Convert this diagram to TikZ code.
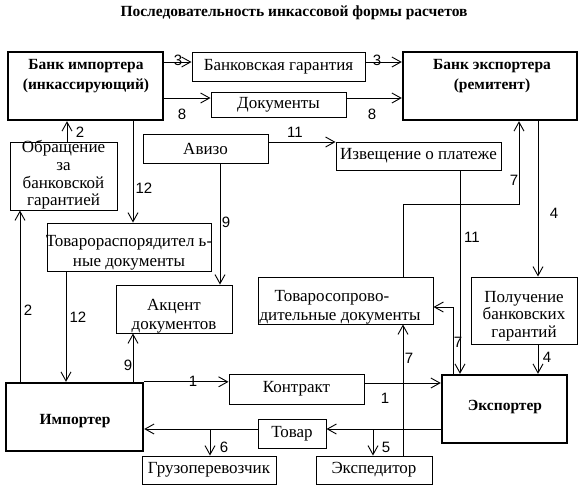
\documentclass[tikz,border=0pt]{standalone}
\usepackage{fontspec}
\setmainfont{Liberation Serif}
\newfontfamily\numfont{Liberation Sans}
\usetikzlibrary{arrows.meta}
\begin{document}
\begin{tikzpicture}[x=1pt,y=-1pt,
  box/.style={draw, line width=1pt, inner sep=0pt},
  bigbox/.style={draw, line width=2.4pt, inner sep=0pt},
  txt/.style={font=\fontsize{17}{19}\selectfont, align=center, inner sep=0pt},
  btxt/.style={font=\fontsize{15.5}{20}\selectfont\bfseries, align=center, inner sep=0pt},
  num/.style={font=\fontsize{15}{16}\numfont, inner sep=0pt},
  arr/.style={line width=0.9pt, -{Straight Barb[length=9pt,width=10pt,line width=0.9pt]}},
  ln/.style={line width=0.9pt}]
\useasboundingbox (0,0) rectangle (587,491);
\fill[white] (0,0) rectangle (587,491);
\node[font=\fontsize{15.5}{18}\selectfont\bfseries, inner sep=0pt] (title) at (294,13) {Последовательность инкассовой формы расчетов};
% boxes
\node[bigbox, minimum width=155pt, minimum height=68pt] (bimp) at (85.5,86) {};
\node[btxt] (bimpt) at (86,76) {Банк импортера\\(инкассирующий)};
\node[bigbox, minimum width=174pt, minimum height=68pt] (bexp) at (490,86) {};
\node[btxt] (bexpt) at (492,76) {Банк экспортера\\(ремитент)};
\node[box, minimum width=173pt, minimum height=29pt, txt] (garant) at (278.5,66.5) {Банковская гарантия};
\node[box, minimum width=135pt, minimum height=25pt, txt] (docs) at (278.5,104.5) {Документы};
\node[box, minimum width=107pt, minimum height=68pt] (obr) at (63.5,176) {};
\node[txt, font=\fontsize{17}{17.8}\selectfont] (obrt) at (63.5,175) {Обращение\\за\\банковской\\гарантией};
\node[box, minimum width=125pt, minimum height=29pt, txt] (aviz) at (205.5,148.5) {Авизо};
\node[box, minimum width=165pt, minimum height=28pt, txt] (izv) at (418.5,156) {Извещение о платеже};
\node[box, minimum width=164pt, minimum height=48pt] (tovr) at (129,247) {};
\node[txt, font=\fontsize{17}{20}\selectfont] (tovrt) at (129,253) {Товарораспорядител ь-\\ные документы};
\node[box, minimum width=116pt, minimum height=48pt] (akc) at (174,309) {};
\node[txt] (akct) at (174,316) {Акцент\\документов};
\node[box, minimum width=175pt, minimum height=47pt] (tovs) at (345.5,300.5) {};
\node[txt, font=\fontsize{17}{19}\selectfont] (tovst) at (340,307) {\hspace*{-16pt}Товаросопрово-\\дительные документы};
\node[box, minimum width=106pt, minimum height=67pt] (pol) at (524,310.5) {};
\node[txt, font=\fontsize{17}{17.5}\selectfont] (polt) at (524,316) {Получение\\банковских\\гарантий};
\node[bigbox, minimum width=137pt, minimum height=68pt] (imp) at (74.5,417) {};
\node[btxt] (impt) at (75,421) {Импортер};
\node[bigbox, minimum width=125pt, minimum height=68pt] (exp) at (504.5,409) {};
\node[btxt] (expt) at (505,407) {Экспортер};
\node[box, minimum width=135pt, minimum height=30pt, txt] (kon) at (296.5,389) {Контракт};
\node[box, minimum width=68pt, minimum height=29pt, txt] (tov) at (292,433.5) {Товар};
\node[box, minimum width=134pt, minimum height=28pt, txt] (gruz) at (209,470) {Грузоперевозчик};
\node[box, minimum width=116pt, minimum height=28pt, txt] (eksp) at (374,470) {Экспедитор};
% connectors
\draw[arr] (bimp.east |- 0,62) -- (garant.west |- 0,62);
\draw[arr] (garant.east |- 0,62) -- (bexp.west |- 0,62);
\node[num] at (178,60) {3};
\node[num] at (377,60) {3};
\draw[arr] (bimp.east |- 0,98) -- (docs.west |- 0,98);
\draw[arr] (docs.east |- 0,98) -- (bexp.west |- 0,98);
\node[num] at (182,114) {8};
\node[num] at (372,114) {8};
\draw[arr] (obr.north -| 67,0) -- (bimp.south -| 67,0);
\node[num] at (80,132) {2};
\draw[arr] (imp.north -| 20,0) -- (obr.south -| 20,0);
\node[num] at (28,310) {2};
\draw[arr] (bimp.south -| 133,0) -- (tovr.north -| 133,0);
\node[num] at (144,188) {12};
\draw[arr] (tovr.south -| 66,0) -- (imp.north -| 66,0);
\node[num] at (78,317) {12};
\draw[arr] (aviz.east |- 0,142) -- (izv.west |- 0,142);
\node[num] at (295,132) {11};
\draw[arr] (aviz.south -| 220,0) -- (akc.north -| 220,0);
\node[num] at (226,222) {9};
\draw[arr] (imp.north -| 133,0) -- (akc.south -| 133,0);
\node[num] at (128,365) {9};
\draw[arr] (izv.south -| 460,0) -- (exp.north -| 460,0);
\node[num] at (472,237) {11};
\draw[arr] (tovs.north -| 403,0) -- (403,204) -- (519,204) -- (bexp.south -| 519,0);
\node[num] at (514,180) {7};
\draw[arr] (bexp.south -| 538,0) -- (pol.north -| 538,0);
\node[num] at (554,213) {4};
\draw[arr] (pol.south -| 538,0) -- (exp.north -| 538,0);
\node[num] at (547,357) {4};
\draw[arr] (exp.north -| 453,0) -- (453,307) -- (tovs.east |- 0,307);
\node[num] at (458,342) {7};
\draw[arr] (eksp.north -| 403,0) -- (tovs.south -| 403,0);
\node[num] at (409,358) {7};
\draw[arr] (imp.north east) -- (kon.west |- imp.north east);
\node[num] at (193,381) {1};
\draw[arr] (kon.east |- 0,383) -- (exp.west |- 0,383);
\node[num] at (385,398) {1};
\draw[arr] (exp.west |- 0,429) -- (tov.east |- 0,429);
\draw[arr] (tov.west |- 0,429) -- (imp.east |- 0,429);
\draw[arr] (210,429) coordinate (b6) -- (gruz.north -| b6);
\node[num] at (224,447) {6};
\draw[arr] (373,429) coordinate (b5) -- (eksp.north -| b5);
\node[num] at (386,447) {5};
\end{tikzpicture}
\end{document}
